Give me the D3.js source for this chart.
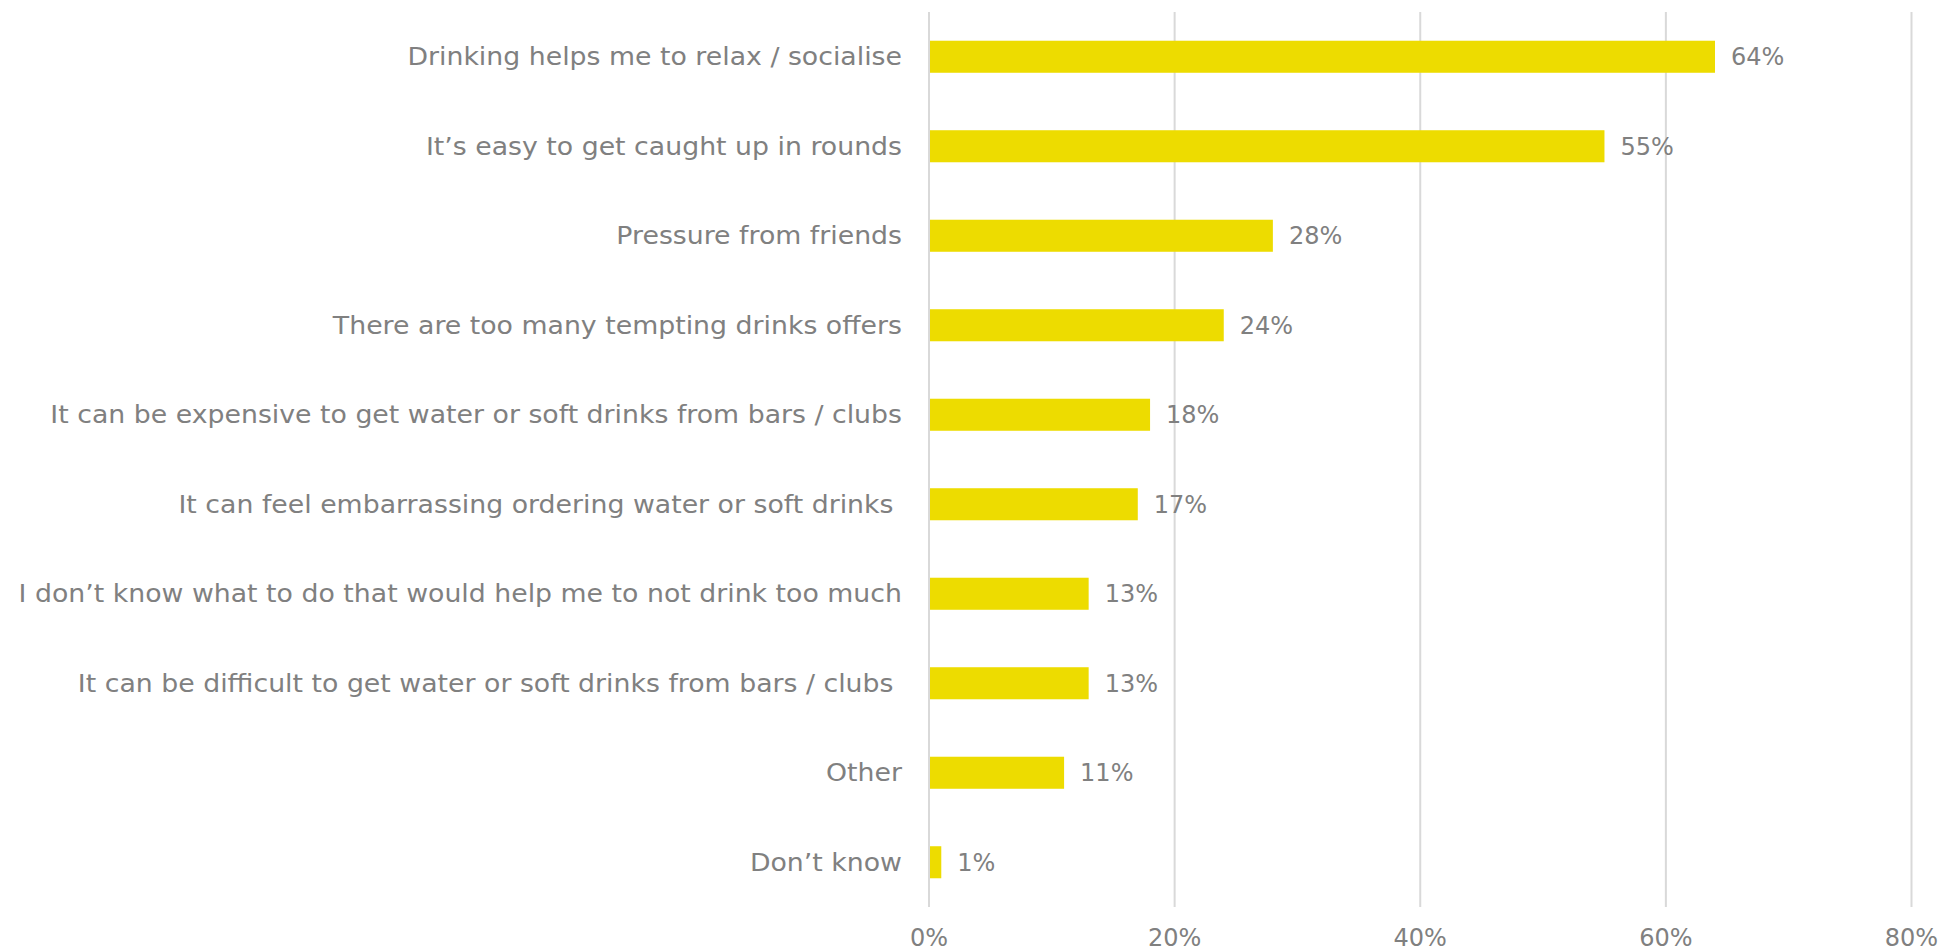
<!DOCTYPE html>
<html>
<head>
<meta charset="utf-8">
<script src="https://cdn.jsdelivr.net/npm/d3@7"></script>
<style>
  html, body { margin: 0; padding: 0; background: #ffffff; }
  svg { display: block; }
  text { font-family: "DejaVu Sans", Verdana, sans-serif; fill: #808080; white-space: pre; }
</style>
</head>
<body>
<svg id="chart" width="1941" height="950"></svg>
<script>
// Reasons given for drinking too much (share of respondents)
const categories = [
  "Drinking helps me to relax / socialise",
  "It\u2019s easy to get caught up in rounds",
  "Pressure from friends",
  "There are too many tempting drinks offers",
  "It can be expensive to get water or soft drinks from bars / clubs",
  "It can feel embarrassing ordering water or soft drinks ",
  "I don\u2019t know what to do that would help me to not drink too much",
  "It can be difficult to get water or soft drinks from bars / clubs ",
  "Other",
  "Don\u2019t know"
];
const values = [64, 55, 28, 24, 18, 17, 13, 13, 11, 1];
const tickValues = [0, 20, 40, 60, 80];

const svg = d3.select("#chart");
const plot = { left: 929, right: 1911.5, top: 12, bottom: 907 };

const x = d3.scaleLinear().domain([0, 80]).range([plot.left, plot.right]);
const y = d3.scaleBand().domain(categories).range([plot.top, plot.bottom]).paddingInner(0.642).paddingOuter(0.321);

// vertical gridlines
svg.append("g").selectAll("line").data(tickValues).join("line")
  .attr("x1", d => x(d)).attr("x2", d => x(d))
  .attr("y1", plot.top).attr("y2", plot.bottom)
  .attr("stroke", "#d9d9d9").attr("stroke-width", 2);

// x-axis tick labels
svg.append("g").selectAll("text").data(tickValues).join("text")
  .attr("x", d => x(d)).attr("y", 946)
  .attr("text-anchor", "middle")
  .style("font-size", "24px")
  .text(d => d + "%");

// bars
svg.append("g").selectAll("rect").data(values).join("rect")
  .attr("x", x(0) + 1)
  .attr("y", (d, i) => y(categories[i]))
  .attr("width", d => x(d) - x(0) - 1)
  .attr("height", y.bandwidth())
  .attr("fill", "#eddc00");

// value labels
svg.append("g").selectAll("text").data(values).join("text")
  .attr("x", d => x(d) + 16)
  .attr("y", (d, i) => y(categories[i]) + y.bandwidth() / 2)
  .attr("dy", "0.36em")
  .style("font-size", "24px")
  .text(d => d + "%");

// category labels (slightly widened glyphs)
svg.append("g").selectAll("text").data(categories).join("text")
  .attr("transform", d => `translate(${plot.left - 27},${y(d) + y.bandwidth() / 2}) scale(1.115,1)`)
  .attr("dy", "0.36em")
  .attr("text-anchor", "end")
  .style("font-size", "24px")
  .text(d => d);
</script>
</body>
</html>
